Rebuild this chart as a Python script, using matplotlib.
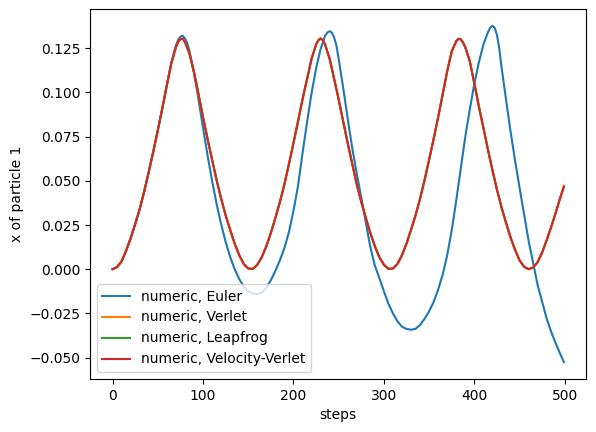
import numpy as np
import matplotlib.pyplot as plt

# x position of particle 1, every 5 steps,
# with a few extra reads around the peaks (last point is step 499)
steps_euler = sorted(list(range(0, 500, 5))
                     + [72.5, 77.5, 82.5, 237.5, 242.5, 247.5, 417.5, 422.5, 427.5, 499])
steps_sympl = sorted(list(range(0, 500, 5))
                     + [72.5, 77.5, 227.5, 232.5, 382.5, 387.5, 499])

x_euler = [
    0.0, 0.0012, 0.0045, 0.0105, 0.0175, 0.0255, 0.034, 0.044, 0.055, 0.0665,      # 0-45
    0.0785, 0.091, 0.104, 0.1168, 0.1265, 0.1297, 0.1315, 0.132, 0.1305, 0.128,    # 50-82.5
    0.1235, 0.111, 0.096, 0.080, 0.0645, 0.050, 0.037, 0.0255, 0.0155, 0.007,      # 85-130
    0.0, -0.0055, -0.0098, -0.0125, -0.0138, -0.014, -0.0132, -0.0105, -0.0062, -0.001,  # 135-180
    0.005, 0.012, 0.021, 0.033, 0.047, 0.0655, 0.083, 0.0995, 0.1135, 0.1245,     # 185-230
    0.132, 0.1338, 0.1346, 0.1338, 0.131, 0.1265, 0.119, 0.1025, 0.085, 0.0685,    # 235-265
    0.054, 0.0405, 0.0265, 0.0125, 0.002, -0.005, -0.0125, -0.0195, -0.025, -0.0295,  # 270-315
    -0.0325, -0.0338, -0.0342, -0.0337, -0.0315, -0.028, -0.0238, -0.0185, -0.0115, -0.003,  # 320-365
    0.008, 0.022, 0.039, 0.057, 0.075, 0.0905, 0.105, 0.117, 0.127, 0.134,         # 370-415
    0.1365, 0.1376, 0.1365, 0.1325, 0.125, 0.1145, 0.096, 0.078, 0.0615, 0.046,    # 417.5-450
    0.031, 0.016, 0.0035, -0.009, -0.0185, -0.028, -0.0355, -0.042, -0.048, -0.0525,  # 455-499
]

x_verlet = [
    0.0, 0.0012, 0.0045, 0.0105, 0.0175, 0.0255, 0.034, 0.044, 0.055, 0.0665,      # 0-45
    0.0785, 0.091, 0.104, 0.1165, 0.1255, 0.1285, 0.1302, 0.1303, 0.1285, 0.122,   # 50-85
    0.1115, 0.099, 0.086, 0.0737, 0.062, 0.0505, 0.040, 0.0305, 0.0223, 0.0145,    # 90-135
    0.008, 0.003, 0.0004, 0.0002, 0.0025, 0.0068, 0.013, 0.0205, 0.029, 0.038,     # 140-185
    0.048, 0.0595, 0.0713, 0.0835, 0.096, 0.1075, 0.119, 0.127, 0.1295, 0.1305,    # 190-230
    0.1295, 0.127, 0.119, 0.1075, 0.096, 0.0835, 0.0713, 0.0595, 0.048, 0.038,     # 232.5-275
    0.029, 0.0205, 0.013, 0.0068, 0.0025, 0.0002, 0.0004, 0.003, 0.008, 0.0145,    # 280-325
    0.0223, 0.0305, 0.040, 0.0505, 0.062, 0.0737, 0.086, 0.099, 0.112, 0.1232,     # 330-375
    0.129, 0.1303, 0.1300, 0.1282, 0.1255, 0.1175, 0.105, 0.092, 0.080, 0.0677,    # 380-415
    0.056, 0.045, 0.035, 0.0263, 0.018, 0.011, 0.005, 0.0014, 0.0, 0.001,          # 420-465
    0.004, 0.0095, 0.0165, 0.024, 0.032, 0.0405, 0.0472,                           # 470-499
]
x_leapfrog = x_verlet[:-1] + [0.0468]
x_vverlet = x_verlet[:-1] + [0.0465]

fig, ax = plt.subplots(figsize=(5.96, 4.32), dpi=100)
fig.subplots_adjust(left=0.151, right=0.984, bottom=0.123, top=0.979)

ax.plot(steps_euler, x_euler, label="numeric, Euler")
ax.plot(steps_sympl, x_verlet, label="numeric, Verlet")
ax.plot(steps_sympl, x_leapfrog, label="numeric, Leapfrog")
ax.plot(steps_sympl, x_vverlet, label="numeric, Velocity-Verlet")
ax.set_xlabel("steps")
ax.set_ylabel("x of particle 1")
ax.legend(loc="lower left")

plt.savefig("out.png")
